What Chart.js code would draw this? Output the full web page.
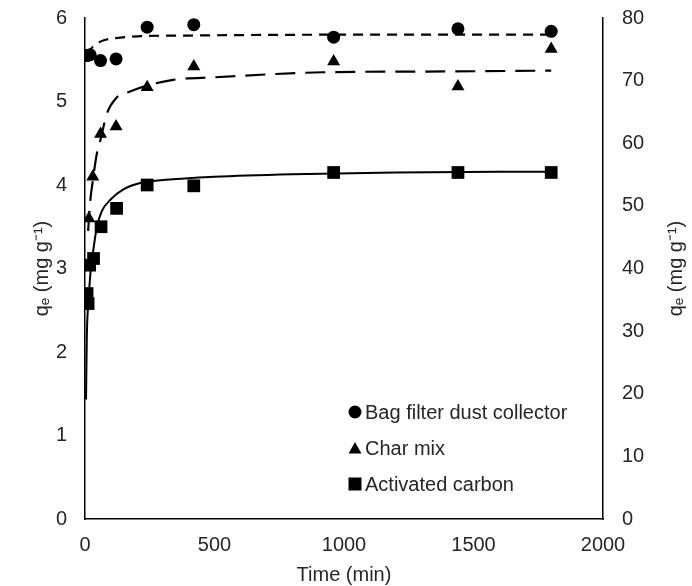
<!DOCTYPE html>
<html>
<head>
<meta charset="utf-8">
<script src="https://cdn.jsdelivr.net/npm/chart.js@4.4.1/dist/chart.umd.min.js"></script>
<style>
  body { margin: 0; background: #fff; }
</style>
</head>
<body>
<canvas id="kineticsChart" width="692" height="586"></canvas>
<script>
// measured points (time in min, qe in mg/g on the left axis)
const bagTime = [8, 20, 60, 120, 240, 420, 960, 1440, 1800];
const bagValue = [5.55, 5.56, 5.49, 5.51, 5.89, 5.92, 5.77, 5.87, 5.84];

const charTime = [15, 30, 60, 120, 240, 420, 960, 1440, 1800];
const charValue = [3.60, 4.10, 4.61, 4.70, 5.17, 5.42, 5.48, 5.18, 5.63];

const carbonTime = [8, 12, 18, 33, 62, 122, 240, 420, 960, 1440, 1800];
const carbonValue = [2.70, 2.58, 3.04, 3.12, 3.50, 3.72, 4.00, 3.99, 4.15, 4.15, 4.15];

// fitted curves
const bagFitTime = [10, 20, 40, 70, 120, 200, 400, 1000, 1800];
const bagFitValue = [5.56, 5.62, 5.68, 5.73, 5.76, 5.78, 5.79, 5.80, 5.80];

const charFitTime = [12, 20, 30, 46, 58, 70, 85, 120, 174, 240, 340, 500, 920, 1400, 1800];
const charFitValue = [3.45, 3.80, 4.05, 4.38, 4.52, 4.68, 4.86, 5.04, 5.12, 5.19, 5.26, 5.29, 5.35, 5.36, 5.37];

const carbonFitTime = [4, 7, 13, 22, 32, 45, 64, 100, 150, 220, 300, 500, 800, 1200, 1800];
const carbonFitValue = [1.43, 2.18, 2.58, 2.98, 3.22, 3.48, 3.68, 3.83, 3.95, 4.03, 4.06, 4.10, 4.13, 4.15, 4.16];

// axis ticks
const xTicks = { min: 0, max: 2000, step: 500 };
const yLeftTicks = { min: 0, max: 6, step: 1 };
const yRightTicks = { min: 0, max: 80, step: 10 };

const axisTitle = 'qₑ (mg g⁻¹)';
const textColor = '#262626';
const fontFamily = '"Liberation Sans", Arial, sans-serif';

const toPoints = (xs, ys) => xs.map((x, i) => ({ x: x, y: ys[i] }));

// keep the vertical axes from pushing the plot area down
const fixVertical = (width) => (scale) => {
  scale.width = width;
  scale.paddingTop = 0;
  scale.paddingBottom = 0;
};

// small legend drawn inside the plot, bottom right
const insideLegend = {
  id: 'insideLegend',
  afterDatasetsDraw(chart) {
    const { ctx, chartArea } = chart;
    const items = chart.data.datasets.filter(d => d.legendShape);
    const markerX = chartArea.right - 248;
    const textX = chartArea.right - 238;
    const rows = [107, 71, 35];
    ctx.save();
    items.forEach((item, i) => {
      const y = chartArea.bottom - rows[i];
      ctx.fillStyle = '#000';
      ctx.beginPath();
      if (item.legendShape === 'circle') {
        ctx.arc(markerX, y, 6.5, 0, Math.PI * 2);
      } else if (item.legendShape === 'triangle') {
        ctx.moveTo(markerX, y - 6);
        ctx.lineTo(markerX + 6.5, y + 5.5);
        ctx.lineTo(markerX - 6.5, y + 5.5);
        ctx.closePath();
      } else {
        ctx.rect(markerX - 6.5, y - 6.5, 13, 13);
      }
      ctx.fill();
      ctx.fillStyle = textColor;
      ctx.font = '20px ' + fontFamily;
      ctx.textBaseline = 'middle';
      ctx.textAlign = 'left';
      ctx.fillText(item.label, textX, y + 1);
    });
    ctx.restore();
  }
};

// right axis title reads bottom-to-top like the left one
const rightTitle = {
  id: 'rightTitle',
  afterDraw(chart) {
    const { ctx, chartArea } = chart;
    ctx.save();
    ctx.translate(676, (chartArea.top + chartArea.bottom) / 2);
    ctx.rotate(-Math.PI / 2);
    ctx.fillStyle = textColor;
    ctx.font = '20px ' + fontFamily;
    ctx.textAlign = 'center';
    ctx.textBaseline = 'middle';
    ctx.fillText(axisTitle, 0, 0);
    ctx.restore();
  }
};

const ctx = document.getElementById('kineticsChart').getContext('2d');
const kineticsChart = new Chart(ctx, {
  type: 'scatter',
  data: {
    datasets: [
      {
        label: 'Bag filter dust collector',
        legendShape: 'circle',
        data: toPoints(bagTime, bagValue),
        pointStyle: 'circle',
        pointRadius: 6.5,
        backgroundColor: '#000',
        borderColor: '#000',
        borderWidth: 0,
        order: 0
      },
      {
        label: 'Char mix',
        legendShape: 'triangle',
        data: toPoints(charTime, charValue),
        pointStyle: 'triangle',
        pointRadius: 7.5,
        backgroundColor: '#000',
        borderColor: '#000',
        borderWidth: 0,
        order: 0
      },
      {
        label: 'Activated carbon',
        legendShape: 'rect',
        data: toPoints(carbonTime, carbonValue),
        pointStyle: 'rect',
        pointRadius: 9,
        backgroundColor: '#000',
        borderColor: '#000',
        borderWidth: 0,
        order: 0
      },
      {
        label: 'Bag filter fit',
        data: toPoints(bagFitTime, bagFitValue),
        showLine: true,
        pointRadius: 0,
        borderColor: '#000',
        borderWidth: 2.2,
        borderDash: [10, 7],
        cubicInterpolationMode: 'monotone',
        order: 1
      },
      {
        label: 'Char mix fit',
        data: toPoints(charFitTime, charFitValue),
        showLine: true,
        pointRadius: 0,
        borderColor: '#000',
        borderWidth: 2.2,
        borderDash: [20, 10],
        cubicInterpolationMode: 'monotone',
        order: 1
      },
      {
        label: 'Activated carbon fit',
        data: toPoints(carbonFitTime, carbonFitValue),
        showLine: true,
        pointRadius: 0,
        borderColor: '#000',
        borderWidth: 2,
        cubicInterpolationMode: 'monotone',
        order: 1
      }
    ]
  },
  options: {
    responsive: false,
    animation: false,
    layout: { padding: { top: 18, left: 0, right: 0, bottom: 0 } },
    plugins: {
      legend: { display: false },
      tooltip: { enabled: false }
    },
    scales: {
      x: {
        type: 'linear',
        position: 'bottom',
        min: xTicks.min,
        max: xTicks.max,
        afterFit: (scale) => { scale.height = 67; },
        grid: { display: false, drawTicks: false },
        border: { display: true, color: '#000', width: 1.5 },
        ticks: {
          stepSize: xTicks.step,
          padding: 14,
          color: textColor,
          font: { family: fontFamily, size: 20 },
          callback: (value) => String(value)
        },
        title: {
          display: true,
          text: 'Time (min)',
          color: textColor,
          padding: { top: 0, bottom: 0 },
          font: { family: fontFamily, size: 20, lineHeight: 1.1 }
        }
      },
      y: {
        position: 'left',
        min: yLeftTicks.min,
        max: yLeftTicks.max,
        afterFit: fixVertical(85),
        grid: { display: false, drawTicks: false },
        border: { display: true, color: '#000', width: 1.5 },
        ticks: {
          stepSize: yLeftTicks.step,
          padding: 18,
          color: textColor,
          font: { family: fontFamily, size: 20 }
        },
        title: {
          display: true,
          text: axisTitle,
          color: textColor,
          padding: { top: 30, bottom: 0 },
          font: { family: fontFamily, size: 20, lineHeight: 1.2 }
        }
      },
      y2: {
        position: 'right',
        min: yRightTicks.min,
        max: yRightTicks.max,
        afterFit: fixVertical(89),
        grid: { display: false, drawTicks: false },
        border: { display: true, color: '#000', width: 1.5 },
        ticks: {
          stepSize: yRightTicks.step,
          padding: 19,
          color: textColor,
          font: { family: fontFamily, size: 20 }
        }
      }
    }
  },
  plugins: [insideLegend, rightTitle]
});
</script>
</body>
</html>
